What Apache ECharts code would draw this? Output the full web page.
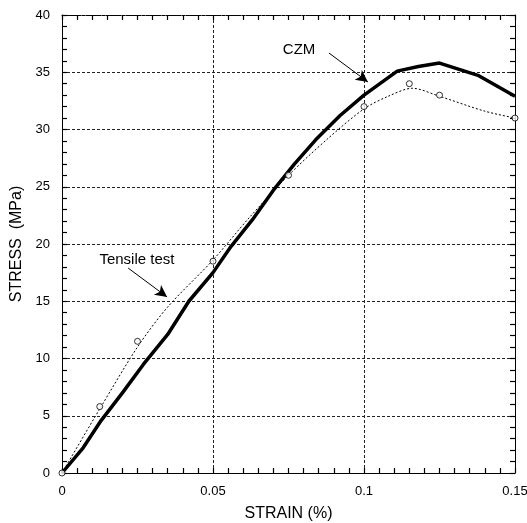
<!DOCTYPE html>
<html><head><meta charset="utf-8">
<script src="https://cdn.jsdelivr.net/npm/echarts@6/dist/echarts.min.js"></script>
<style>html,body{margin:0;padding:0;background:#fff}#c{width:527px;height:523px}</style>
</head><body><div id="c"></div>
<script>
// CZM simulation (strain %, stress MPa)
const czmStrain = [0, 0.007, 0.013, 0.02, 0.027, 0.035, 0.042, 0.05, 0.056, 0.063, 0.07, 0.077, 0.084, 0.092, 0.1, 0.111, 0.118, 0.125, 0.138, 0.15];
const czmStress = [0, 2.2, 4.6, 7.0, 9.5, 12.1, 15.0, 17.5, 19.8, 22.1, 24.7, 27.0, 29.1, 31.2, 33.0, 35.1, 35.5, 35.8, 34.7, 32.9];
// Tensile test curve
const testLineStrain = [0, 0.0125, 0.025, 0.035, 0.05, 0.062, 0.075, 0.088, 0.1, 0.108, 0.116, 0.125, 0.14, 0.15];
const testLineStress = [0, 5.6, 11.0, 14.5, 18.6, 22.3, 26.0, 29.2, 31.8, 32.9, 33.6, 32.9, 31.6, 31.0];
// Tensile test measured points (circles)
const testPtStrain = [0, 0.0125, 0.025, 0.05, 0.075, 0.1, 0.115, 0.125, 0.15];
const testPtStress = [0, 5.8, 11.5, 18.5, 26.0, 32.0, 34.0, 33.0, 31.0];
// annotations: label text, label position, arrow start, arrow end (data units)
const annoText = ['CZM', 'Tensile test'];
const annoLabelPos = [[0.0785, 36.94], [0.0248, 18.65]];
const annoArrowFrom = [[0.0884, 36.68], [0.0219, 17.9]];
const annoArrowTo = [[0.1013, 34.15], [0.0348, 15.37]];
const xTicks = [0, 0.05, 0.1, 0.15];
const yTicks = [0, 5, 10, 15, 20, 25, 30, 35, 40];

const zip = (a, b) => a.map((v, i) => [v, b[i]]);
const FONT = 'Liberation Sans, Arial, sans-serif';
const chart = echarts.init(document.getElementById('c'), null, {renderer: 'canvas'});
const gridLine = () => ({show: true, lineStyle: {color: '#222', width: 1, type: [3, 2]}});
const isMajor = (v, list) => list.some(t => Math.abs(t - v) < 1e-9);
const xLabelFmt = v => (isMajor(v, xTicks) ? String(+(+v).toFixed(3)) : '');
const yLabelFmt = v => (isMajor(v, yTicks) ? String(Math.round(v)) : '');
const tick = () => ({show: true, inside: true, length: 5, lineStyle: {color: '#000', width: 1.2}});
const X_MIN = xTicks[0], X_MAX = xTicks[xTicks.length - 1];
const Y_MIN = yTicks[0], Y_MAX = yTicks[yTicks.length - 1];
const option = {
  animation: false,
  backgroundColor: '#fff',
  grid: {left: 62, right: 12, top: 15, bottom: 50, outerBoundsMode: 'none', containLabel: false},
  xAxis: [
    { // bottom: minor ticks + labels
      type: 'value', min: X_MIN, max: X_MAX, interval: 0.005, position: 'bottom',
      axisLine: {show: true, onZero: false, lineStyle: {color: '#000', width: 1}},
      axisTick: tick(), splitLine: {show: false},
      name: 'STRAIN (%)', nameLocation: 'middle', nameGap: 33,
      nameTextStyle: {fontFamily: FONT, fontSize: 16, color: '#000'},
      axisLabel: {fontFamily: FONT, fontSize: 13, color: '#000', margin: 12, formatter: xLabelFmt,
                  showMinLabel: true, showMaxLabel: true}
    },
    { // top frame with ticks
      type: 'value', min: X_MIN, max: X_MAX, interval: 0.005, position: 'top',
      axisLine: {show: true, onZero: false, lineStyle: {color: '#000', width: 1, type: [3, 1]}},
      axisTick: tick(), axisLabel: {show: false}, splitLine: {show: false}
    },
    { // grid lines
      type: 'value', min: X_MIN, max: X_MAX, interval: 0.05, position: 'bottom',
      axisLine: {show: false}, axisTick: {show: false}, axisLabel: {show: false},
      splitLine: gridLine()
    }
  ],
  yAxis: [
    {
      type: 'value', min: Y_MIN, max: Y_MAX, interval: 1, position: 'left',
      axisLine: {show: true, onZero: false, lineStyle: {color: '#000', width: 1}},
      axisTick: tick(), splitLine: {show: false},
      name: 'STRESS  (MPa)', nameLocation: 'middle', nameGap: 37,
      nameTextStyle: {fontFamily: FONT, fontSize: 16, color: '#000'},
      axisLabel: {fontFamily: FONT, fontSize: 13, color: '#000', margin: 12, formatter: yLabelFmt,
                  showMinLabel: true, showMaxLabel: true}
    },
    {
      type: 'value', min: Y_MIN, max: Y_MAX, interval: 1, position: 'right',
      axisLine: {show: true, onZero: false, lineStyle: {color: '#000', width: 1}},
      axisTick: tick(), axisLabel: {show: false}, splitLine: {show: false}
    },
    {
      type: 'value', min: Y_MIN, max: Y_MAX, interval: 5, position: 'left',
      axisLine: {show: false}, axisTick: {show: false}, axisLabel: {show: false},
      splitLine: gridLine()
    }
  ],
  series: [
    {
      name: 'Tensile test line', type: 'line', data: zip(testLineStrain, testLineStress),
      showSymbol: false, smooth: 0.3, z: 3,
      lineStyle: {color: '#000', width: 1, type: [2, 2]}
    },
    {
      name: 'Tensile test points', type: 'scatter', data: zip(testPtStrain, testPtStress),
      symbol: 'circle', symbolSize: 6, z: 5,
      itemStyle: {color: '#fff', borderColor: '#000', borderWidth: 1}
    },
    {
      name: 'CZM', type: 'line', data: zip(czmStrain, czmStress), showSymbol: false, z: 4,
      lineStyle: {color: '#000', width: 3.5},
      markLine: {
        silent: true, symbol: ['none', 'arrow'], symbolSize: [9, 12],
        lineStyle: {color: '#000', width: 1, type: 'solid'},
        label: {show: false},
        data: annoArrowFrom.map((f, i) => [{coord: f}, {coord: annoArrowTo[i]}])
      },
      markPoint: {
        silent: true, symbol: 'circle', symbolSize: 0,
        label: {show: true, position: 'inside', color: '#000', fontFamily: FONT, fontSize: 15,
                formatter: p => p.name},
        data: annoText.map((t, i) => ({name: t, coord: annoLabelPos[i], value: t}))
      }
    }
  ]
};
chart.setOption(option);
</script>
</body></html>
